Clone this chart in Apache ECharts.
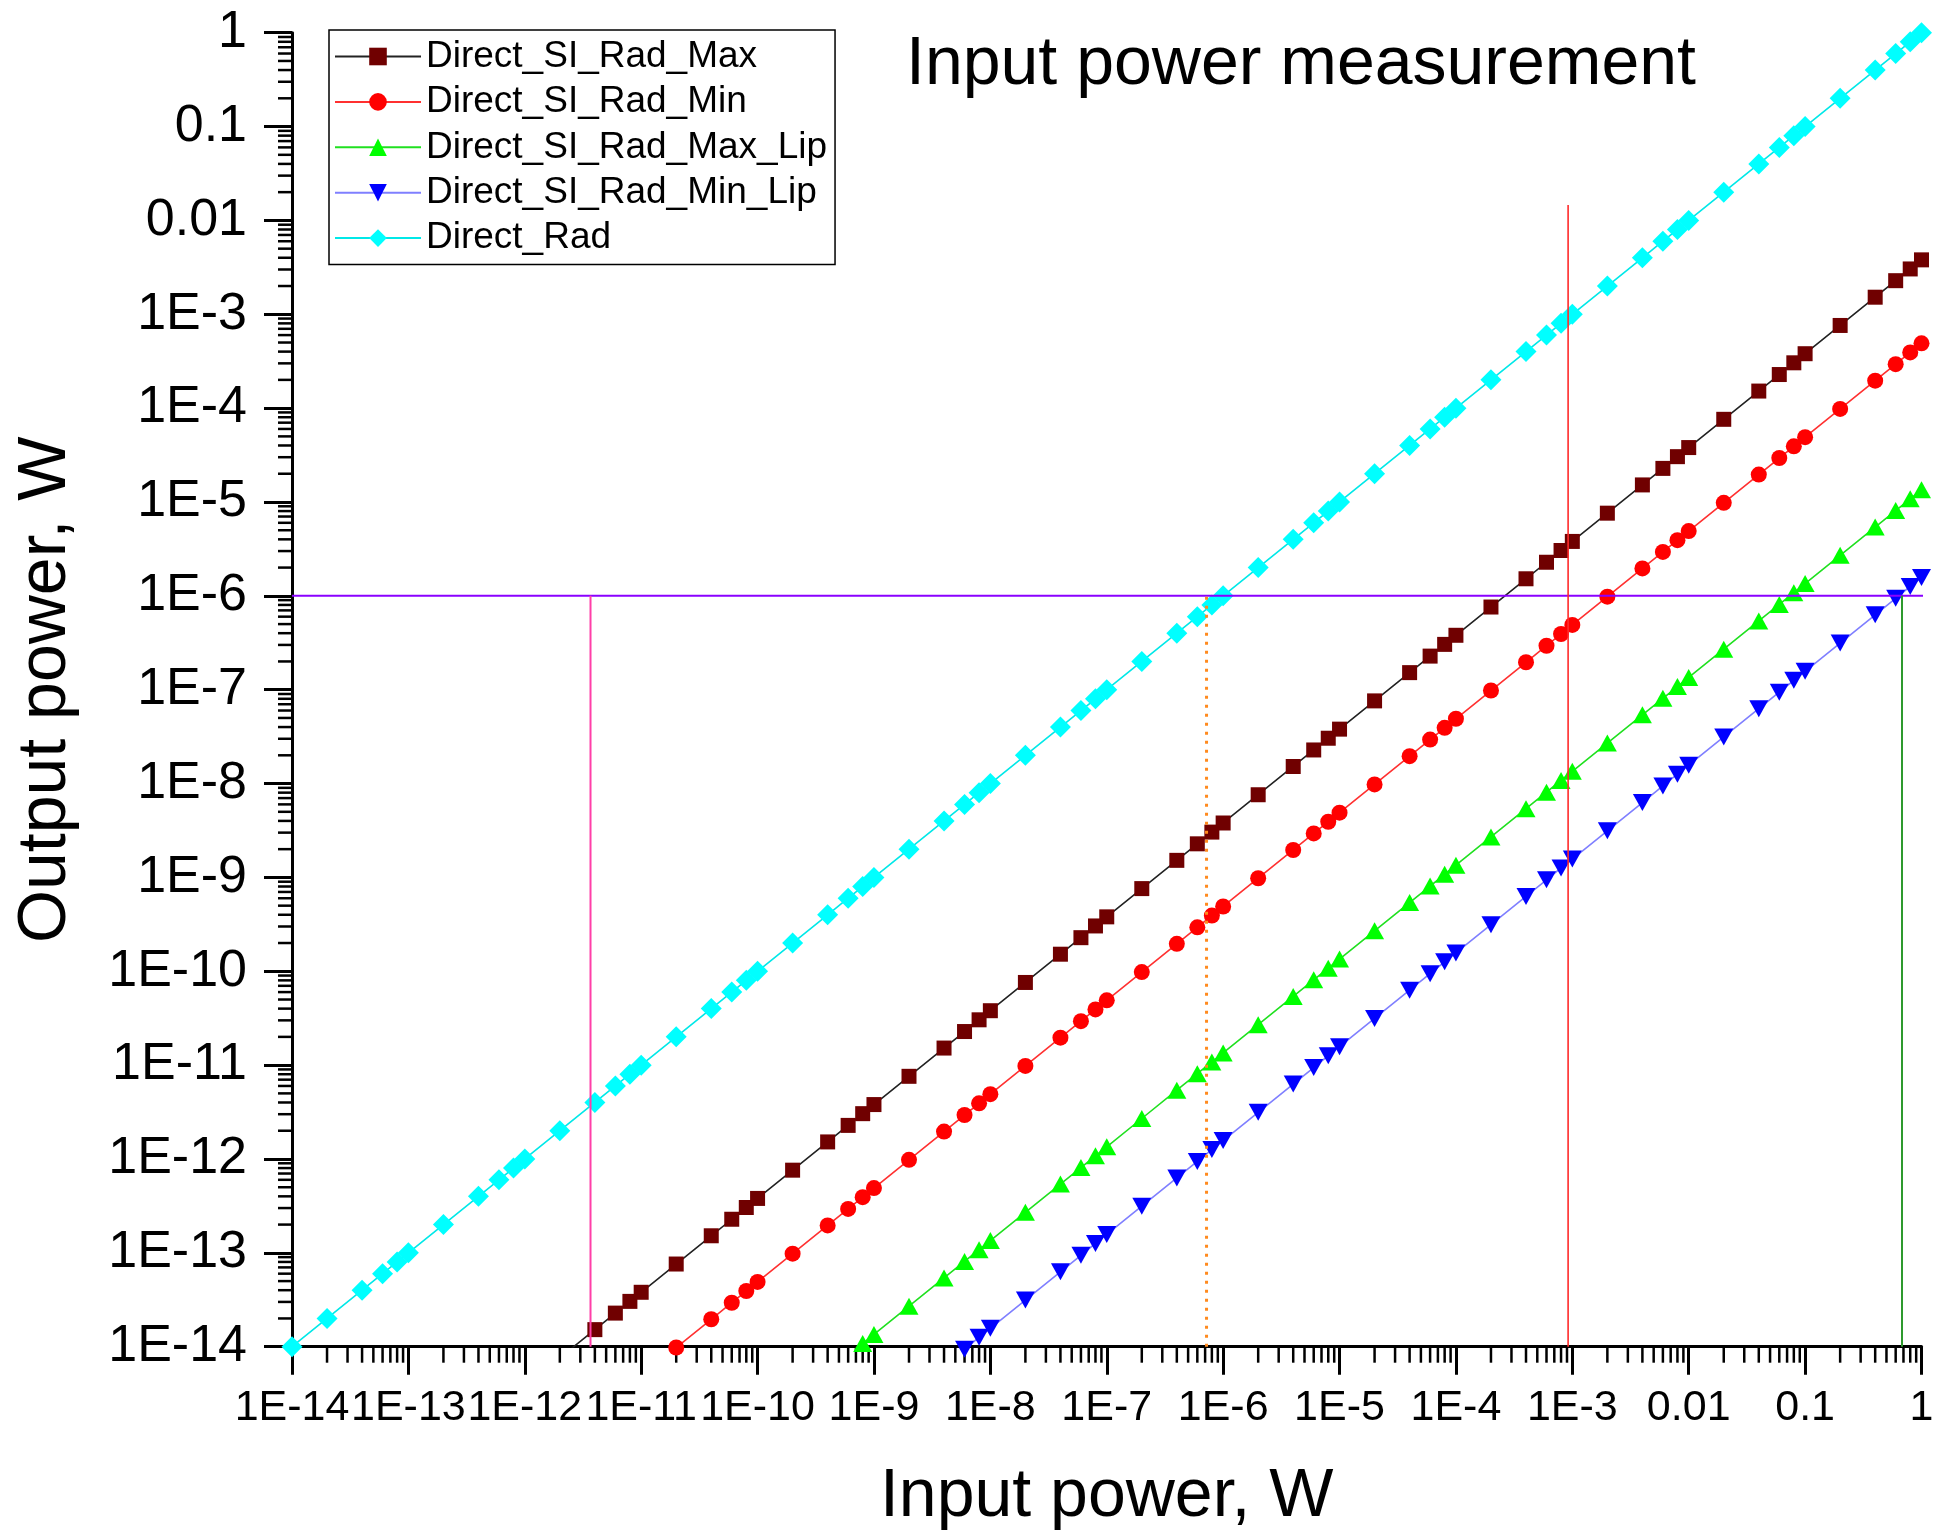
<!DOCTYPE html>
<html><head><meta charset="utf-8">
<style>html,body{margin:0;padding:0;background:#fff}#c{width:1946px;height:1537px}</style>
<script src="https://cdn.jsdelivr.net/npm/echarts@6/dist/echarts.min.js"></script>
</head><body><div id="c"></div>
<script>
const FONT = 'Liberation Sans, Arial, sans-serif';
const seriesNames = ['Direct_SI_Rad_Max','Direct_SI_Rad_Min','Direct_SI_Rad_Max_Lip','Direct_SI_Rad_Min_Lip','Direct_Rad'];

const inputPower = [
1e-14,2e-14,4e-14,6e-14,8e-14,
1e-13,2e-13,4e-13,6e-13,8e-13,
1e-12,2e-12,4e-12,6e-12,8e-12,
1e-11,2e-11,4e-11,6e-11,8e-11,
1e-10,2e-10,4e-10,6e-10,8e-10,
1e-9,2e-9,4e-9,6e-9,8e-9,
1e-8,2e-8,4e-8,6e-8,8e-8,
1e-7,2e-7,4e-7,6e-7,8e-7,
1e-6,2e-6,4e-6,6e-6,8e-6,
1e-5,2e-5,4e-5,6e-5,8e-5,
1e-4,2e-4,4e-4,6e-4,8e-4,
1e-3,2e-3,4e-3,6e-3,8e-3,
0.01,0.02,0.04,0.06,0.08,
0.1,0.2,0.4,0.6,0.8,
1];

const outRad = [
1e-14,2e-14,4e-14,6e-14,8e-14,
1e-13,2e-13,4e-13,6e-13,8e-13,
1e-12,2e-12,4e-12,6e-12,8e-12,
1e-11,2e-11,4e-11,6e-11,8e-11,
1e-10,2e-10,4e-10,6e-10,8e-10,
1e-9,2e-9,4e-9,6e-9,8e-9,
1e-8,2e-8,4e-8,6e-8,8e-8,
1e-7,2e-7,4e-7,6e-7,8e-7,
1e-6,2e-6,4e-6,6e-6,8e-6,
1e-5,2e-5,4e-5,6e-5,8e-5,
1e-4,2e-4,4e-4,6e-4,8e-4,
1e-3,2e-3,4e-3,6e-3,8e-3,
0.01,0.02,0.04,0.06,0.08,
0.1,0.2,0.4,0.6,0.8,
1];

const outMax = [
null,null,null,null,null,
null,null,null,null,null,
null,7.6e-15,1.52e-14,2.28e-14,3.04e-14,
3.8e-14,7.6e-14,1.52e-13,2.28e-13,3.04e-13,
3.8e-13,7.6e-13,1.52e-12,2.28e-12,3.04e-12,
3.8e-12,7.6e-12,1.52e-11,2.28e-11,3.04e-11,
3.8e-11,7.6e-11,1.52e-10,2.28e-10,3.04e-10,
3.8e-10,7.6e-10,1.52e-9,2.28e-9,3.04e-9,
3.8e-9,7.6e-9,1.52e-8,2.28e-8,3.04e-8,
3.8e-8,7.6e-8,1.52e-7,2.28e-7,3.04e-7,
3.8e-7,7.6e-7,1.52e-6,2.28e-6,3.04e-6,
3.8e-6,7.6e-6,1.52e-5,2.28e-5,3.04e-5,
3.8e-5,7.6e-5,1.52e-4,2.28e-4,3.04e-4,
3.8e-4,7.6e-4,1.52e-3,2.28e-3,3.04e-3,
3.8e-3];

const outMin = [
null,null,null,null,null,
null,null,null,null,null,
null,null,null,null,null,
null,9.8e-15,1.96e-14,2.94e-14,3.92e-14,
4.9e-14,9.8e-14,1.96e-13,2.94e-13,3.92e-13,
4.9e-13,9.8e-13,1.96e-12,2.94e-12,3.92e-12,
4.9e-12,9.8e-12,1.96e-11,2.94e-11,3.92e-11,
4.9e-11,9.8e-11,1.96e-10,2.94e-10,3.92e-10,
4.9e-10,9.8e-10,1.96e-9,2.94e-9,3.92e-9,
4.9e-9,9.8e-9,1.96e-8,2.94e-8,3.92e-8,
4.9e-8,9.8e-8,1.96e-7,2.94e-7,3.92e-7,
4.9e-7,9.8e-7,1.96e-6,2.94e-6,3.92e-6,
4.9e-6,9.8e-6,1.96e-5,2.94e-5,3.92e-5,
4.9e-5,9.8e-5,1.96e-4,2.94e-4,3.92e-4,
4.9e-4];

const outMaxLip = [
null,null,null,null,null,
null,null,null,null,null,
null,null,null,null,null,
null,null,null,null,null,
null,null,null,8.1e-15,1.08e-14,
1.35e-14,2.7e-14,5.4e-14,8.1e-14,1.08e-13,
1.35e-13,2.7e-13,5.4e-13,8.1e-13,1.08e-12,
1.35e-12,2.7e-12,5.4e-12,8.1e-12,1.08e-11,
1.35e-11,2.7e-11,5.4e-11,8.1e-11,1.08e-10,
1.35e-10,2.7e-10,5.4e-10,8.1e-10,1.08e-9,
1.35e-9,2.7e-9,5.4e-9,8.1e-9,1.08e-8,
1.35e-8,2.7e-8,5.4e-8,8.1e-8,1.08e-7,
1.35e-7,2.7e-7,5.4e-7,8.1e-7,1.08e-6,
1.35e-6,2.7e-6,5.4e-6,8.1e-6,1.08e-5,
1.35e-5];

const outMinLip = [
null,null,null,null,null,
null,null,null,null,null,
null,null,null,null,null,
null,null,null,null,null,
null,null,null,null,null,
null,null,null,9.42e-15,1.26e-14,
1.57e-14,3.14e-14,6.28e-14,9.42e-14,1.26e-13,
1.57e-13,3.14e-13,6.28e-13,9.42e-13,1.26e-12,
1.57e-12,3.14e-12,6.28e-12,9.42e-12,1.26e-11,
1.57e-11,3.14e-11,6.28e-11,9.42e-11,1.26e-10,
1.57e-10,3.14e-10,6.28e-10,9.42e-10,1.26e-9,
1.57e-9,3.14e-9,6.28e-9,9.42e-9,1.26e-8,
1.57e-8,3.14e-8,6.28e-8,9.42e-8,1.26e-7,
1.57e-7,3.14e-7,6.28e-7,9.42e-7,1.26e-6,
1.57e-6];

const decadeLabels = ['1E-14','1E-13','1E-12','1E-11','1E-10','1E-9','1E-8','1E-7','1E-6','1E-5','1E-4','1E-3','0.01','0.1','1'];

// reference lines (data coordinates)
const hLevel = 1e-6;
const hLineX = [1e-14, 1.6];
const pinkX = 3.67e-12;
const orangeX = 7.2e-7;
const redX = 9.2e-4;
const redTop = 0.0146;
const greenX = 0.68;
const axisMin = 1e-14;

function pairs(ys){ return inputPower.map((x,i)=> ys[i]==null ? null : [x, ys[i]]).filter(p=>p); }

const chart = echarts.init(document.getElementById('c'), null, {renderer:'canvas'});

function lineSeries(name, ys, symbol, size, lineColor, markColor, clip){
  return {name, type:'line', data: pairs(ys), symbol, symbolSize: size, showSymbol:true,
    showAllSymbol:true, clip, z:2,
    lineStyle:{color: lineColor, width:1.6}, itemStyle:{color: markColor},
    emphasis:{disabled:true}, animation:false};
}
function refSeries(data, color, width, type, clip){
  return {type:'line', data, symbol:'none', silent:true, clip, z:5, animation:false,
    lineStyle:{color, width, type: type||'solid'}, emphasis:{disabled:true}};
}
const downTri = 'path://M0,0 L20,0 L10,17 Z';

const axisCommon = {
  type:'log', logBase:10, min:1e-14, max:1, interval:1, splitNumber:14,
  splitLine:{show:false},
  axisLine:{show:true, lineStyle:{color:'#000', width:3}},
  axisTick:{show:true, inside:false, length:28, lineStyle:{color:'#000', width:3}},
  minorTick:{show:false},
  nameLocation:'middle',
  nameTextStyle:{fontSize:68, color:'#000', fontFamily:FONT}
};
const fmt = v => decadeLabels[Math.round(Math.log10(v)) + 14];

chart.setOption({
  backgroundColor:'#fff',
  animation:false,
  title:{text:'Input power measurement', left:906, top:31, padding:0,
    textStyle:{fontSize:68, fontWeight:'normal', color:'#000', fontFamily:FONT}},
  legend:{
    data: seriesNames, orient:'vertical', left:329, top:30,
    padding:[8,8,8,5], itemGap:8.4, itemWidth:86, itemHeight:22,
    borderColor:'#000', borderWidth:1.5, backgroundColor:'#fff',
    textStyle:{fontSize:37, color:'#000', fontFamily:FONT, lineHeight:37},
    selectedMode:false
  },
  grid:{left:292, right:24.5, top:32.7, bottom:190.3, containLabel:false},
  xAxis: Object.assign({}, axisCommon, {
    name:'Input power, W', nameGap:117,
    axisLabel:{fontSize:43, color:'#000', fontFamily:FONT, margin:40, formatter:fmt, showMinLabel:true, showMaxLabel:true}
  }),
  yAxis: Object.assign({}, axisCommon, {
    name:'Output power, W', nameGap:212, nameRotate:90,
    axisLabel:{fontSize:52, color:'#000', fontFamily:FONT, margin:45, formatter:fmt, showMinLabel:true, showMaxLabel:true}
  }),
  series:[
    lineSeries(seriesNames[0], outMax, 'rect', 15, '#222', '#700000', true),
    lineSeries(seriesNames[1], outMin, 'circle', 16, '#ff3030', '#ff0000', false),
    lineSeries(seriesNames[2], outMaxLip, 'triangle', [19,17], '#20e020', '#00ff00', true),
    lineSeries(seriesNames[3], outMinLip, downTri, [19,17], '#7f7fff', '#0000ff', false),
    lineSeries(seriesNames[4], outRad, 'diamond', 21, '#00e8e8', '#00ffff', false),
    refSeries([[hLineX[0], hLevel],[hLineX[1], hLevel]], '#8a00ff', 2, 'solid', false),
    refSeries([[pinkX, axisMin],[pinkX, hLevel]], '#ff3fa8', 2, 'solid', false),
    refSeries([[orangeX, axisMin],[orangeX, hLevel]], '#ff8a1e', 3, [3,6], false),
    refSeries([[redX, axisMin],[redX, redTop]], '#ff2a2a', 1.6, 'solid', false),
    refSeries([[greenX, axisMin],[greenX, hLevel]], '#2e9a2e', 2, 'solid', false)
  ]
});

// logarithmic minor ticks (2..9 in each decade), positioned through the axis scales
const g = [];
const x0 = chart.convertToPixel({xAxisIndex:0}, 1e-14);
const yb = chart.convertToPixel({yAxisIndex:0}, 1e-14);
for (let n = -14; n < 0; n++) {
  for (let m = 2; m <= 9; m++) {
    const v = m * Math.pow(10, n);
    const px = chart.convertToPixel({xAxisIndex:0}, v);
    g.push({type:'line', silent:true, shape:{x1:px, y1:yb, x2:px, y2:yb+16}, style:{stroke:'#000', lineWidth:2.5}});
    const py = chart.convertToPixel({yAxisIndex:0}, v);
    g.push({type:'line', silent:true, shape:{x1:x0, y1:py, x2:x0-14, y2:py}, style:{stroke:'#000', lineWidth:2.5}});
  }
}
chart.setOption({graphic: g});
</script>
</body></html>
